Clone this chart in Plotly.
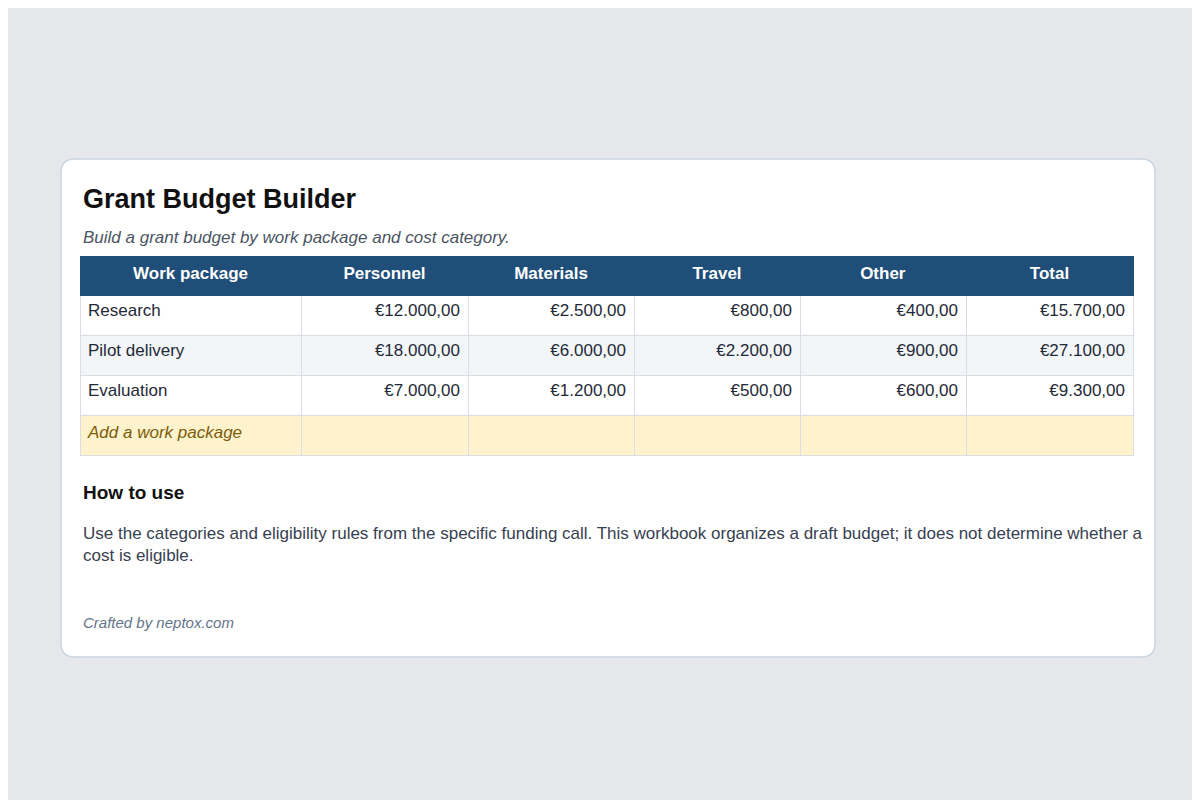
import plotly.graph_objects as go

packages = ["Research", "Pilot delivery", "Evaluation", "<i>Add a work package</i>"]
personnel = ["€12.000,00", "€18.000,00", "€7.000,00", ""]
materials = ["€2.500,00", "€6.000,00", "€1.200,00", ""]
travel = ["€800,00", "€2.200,00", "€500,00", ""]
other = ["€400,00", "€900,00", "€600,00", ""]
total = ["€15.700,00", "€27.100,00", "€9.300,00", ""]
headers = ["Work package", "Personnel", "Materials", "Travel", "Other", "Total"]

W, H = 1200, 800
px = lambda x: x / W
py = lambda y: 1 - y / H
FONT = "Liberation Sans, Arial, sans-serif"

row_fill = ["#ffffff", "#f3f6f9", "#ffffff", "#fff3cd"]
fig = go.Figure()
fig.add_trace(go.Table(
    domain=dict(x=[px(72), px(1125)], y=[py(448), py(248)]),
    columnwidth=[221, 167, 166, 166, 166, 167],
    header=dict(values=[f"<b>{h}</b>" for h in headers], fill_color="#1f4e79",
                line_color="#1f4e79", align="center", height=39,
                font=dict(family=FONT, size=17, color="white")),
    cells=dict(values=[packages, personnel, materials, travel, other, total],
               fill_color=[row_fill] * 6, line_color="#d9dee5",
               align=["left"] + ["right"] * 5, height=40,
               font=dict(family=FONT, size=17,
                         color=[["#1f2937"] * 3 + ["#7a5c0a"]] + ["#1f2937"] * 5)),
))

x0, x1, y0, y1 = px(53), px(1147), py(649), py(151)
rx, ry = 14 / W, 14 / H
path = (f"M {x0+rx},{y0} L {x1-rx},{y0} Q {x1},{y0} {x1},{y0+ry} L {x1},{y1-ry} "
        f"Q {x1},{y1} {x1-rx},{y1} L {x0+rx},{y1} Q {x0},{y1} {x0},{y1-ry} "
        f"L {x0},{y0+ry} Q {x0},{y0} {x0+rx},{y0} Z")
fig.add_shape(type="path", path=path, xref="paper", yref="paper",
              fillcolor="white", line=dict(color="#cbd5e1", width=1.5), layer="below")

def ann(text, x, y, size, color, **kw):
    fig.add_annotation(text=text, x=px(x), y=py(y), xref="paper", yref="paper",
                       xanchor="left", yanchor="middle", showarrow=False, align="left",
                       font=dict(family=FONT, size=size, color=color), **kw)

ann("<b>Grant Budget Builder</b>", 73, 191, 27, "#111111")
ann("<i>Build a grant budget by work package and cost category.</i>", 73, 229, 17, "#4b5563")
ann("<b>How to use</b>", 73, 484, 19, "#111111")
ann("Use the categories and eligibility rules from the specific funding call. This workbook organizes a draft budget; it does not determine whether a<br>cost is eligible.",
    73, 536, 17, "#374151")
ann("<i>Crafted by neptox.com</i>", 73, 614, 15, "#64748b")

fig.update_layout(width=W, height=H, margin=dict(l=0, r=0, t=0, b=0),
                  paper_bgcolor="#e5e7eb", plot_bgcolor="#e5e7eb")
fig.write_html("out.html")
